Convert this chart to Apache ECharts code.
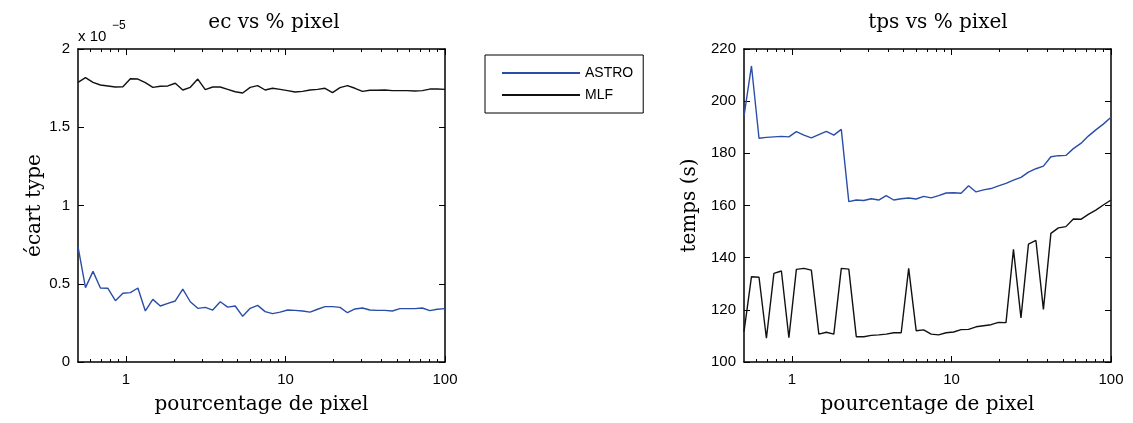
<!DOCTYPE html>
<html>
<head>
<meta charset="utf-8">
<script src="https://cdn.jsdelivr.net/npm/echarts/dist/echarts.min.js"></script>
<style>
html, body { margin: 0; padding: 0; background: #fff; }
#main { width: 1133px; height: 423px; }
</style>
</head>
<body>
<div id="main"></div>
<script>
// pourcentage de pixel (log-spaced samples)
var pct = [0.5, 0.557, 0.621, 0.691, 0.770, 0.858, 0.956, 1.065, 1.187, 1.322,
    1.473, 1.641, 1.829, 2.037, 2.270, 2.529, 2.818, 3.139, 3.497, 3.897,
    4.341, 4.837, 5.389, 6.004, 6.689, 7.452, 8.303, 9.250, 10.31, 11.48,
    12.79, 14.25, 15.88, 17.69, 19.71, 21.96, 24.46, 27.26, 30.37, 33.83,
    37.69, 41.99, 46.79, 52.13, 58.07, 64.70, 72.08, 80.31, 89.47, 100];

// ecart type, in units of 1e-5
var ecAstro = [0.737, 0.475, 0.579, 0.473, 0.471, 0.392, 0.439, 0.443, 0.473, 0.326,
    0.400, 0.358, 0.375, 0.390, 0.466, 0.385, 0.343, 0.349, 0.332, 0.385,
    0.351, 0.358, 0.292, 0.343, 0.362, 0.322, 0.309, 0.319, 0.332, 0.330,
    0.326, 0.319, 0.337, 0.354, 0.354, 0.349, 0.315, 0.339, 0.345, 0.332,
    0.330, 0.330, 0.326, 0.341, 0.341, 0.341, 0.345, 0.328, 0.337, 0.341];
var ecMlf = [1.787, 1.817, 1.787, 1.770, 1.764, 1.757, 1.759, 1.810, 1.808, 1.785,
    1.755, 1.762, 1.764, 1.781, 1.738, 1.755, 1.808, 1.740, 1.757, 1.757,
    1.742, 1.727, 1.719, 1.755, 1.766, 1.738, 1.749, 1.742, 1.734, 1.725,
    1.729, 1.738, 1.742, 1.749, 1.721, 1.753, 1.766, 1.749, 1.729, 1.736,
    1.736, 1.738, 1.734, 1.734, 1.734, 1.732, 1.734, 1.744, 1.744, 1.742];

// temps (s)
var tpsAstro = [194.3, 213.5, 185.8, 186.1, 186.3, 186.5, 186.3, 188.3, 187.0, 185.9,
    187.2, 188.4, 187.0, 189.2, 161.5, 162.1, 161.9, 162.6, 162.1, 163.8,
    162.1, 162.6, 162.9, 162.5, 163.5, 162.9, 163.8, 164.8, 164.9, 164.7,
    167.6, 165.2, 166.0, 166.5, 167.5, 168.5, 169.7, 170.8, 172.8, 174.1,
    175.1, 178.7, 179.1, 179.2, 181.8, 183.8, 186.6, 189.0, 191.2, 193.8];
var tpsMlf = [111.6, 132.7, 132.5, 109.1, 134.0, 134.9, 109.3, 135.5, 135.9, 135.2,
    110.7, 111.4, 110.7, 135.9, 135.6, 109.7, 109.7, 110.2, 110.4, 110.7,
    111.2, 111.2, 135.9, 112.0, 112.3, 110.7, 110.4, 111.2, 111.5, 112.4,
    112.5, 113.5, 113.9, 114.3, 115.2, 115.1, 143.2, 116.9, 145.2, 146.6,
    120.2, 149.3, 151.4, 151.9, 154.8, 154.7, 156.6, 158.2, 160.2, 162.1];

var xMajor = [1, 10, 100];
var xMinor = [0.6, 0.7, 0.8, 0.9, 2, 3, 4, 5, 6, 7, 8, 9, 20, 30, 40, 50, 60, 70, 80, 90];

var blue = '#2a4ea8';
var black = '#111';
var serif = 'DejaVu Serif';
var sans = 'Liberation Sans';

function pairs(ys) {
    return pct.map(function (x, i) { return [x, ys[i]]; });
}

function xAxes(grid) {
    var list = [];
    ['bottom', 'top'].forEach(function (pos) {
        [xMajor, xMinor].forEach(function (vals, j) {
            var major = j === 0;
            var ax = {
                gridIndex: grid,
                type: 'log',
                logBase: 10,
                min: 0.5,
                max: 100,
                position: pos,
                splitLine: { show: false },
                axisLine: { show: major, onZero: false, lineStyle: { color: '#000', width: 1.5 } },
                axisTick: { show: true, inside: true, length: major ? 6 : 3, customValues: vals,
                    lineStyle: { color: '#000', width: 1 } },
                axisLabel: { show: false }
            };
            if (pos === 'bottom' && major) {
                ax.axisLabel = { show: true, customValues: xMajor, color: '#000',
                    fontFamily: sans, fontSize: 15, margin: 10 };
                ax.name = 'pourcentage de pixel';
                ax.nameLocation = 'middle';
                ax.nameGap = 33;
                ax.nameTextStyle = { fontFamily: serif, fontSize: 20, color: '#000' };
            }
            list.push(ax);
        });
    });
    return list;
}

function yAxes(grid, min, max, step, name, gap) {
    return ['left', 'right'].map(function (pos) {
        var ax = {
            gridIndex: grid,
            type: 'value',
            min: min,
            max: max,
            interval: step,
            position: pos,
            splitLine: { show: false },
            axisLine: { show: true, lineStyle: { color: '#000', width: 1.5 } },
            axisTick: { show: true, inside: true, length: 6, lineStyle: { color: '#000', width: 1 } },
            axisLabel: { show: pos === 'left', color: '#000', fontFamily: sans, fontSize: 15, margin: 8 }
        };
        if (pos === 'left') {
            ax.name = name;
            ax.nameLocation = 'middle';
            ax.nameGap = gap;
            ax.nameTextStyle = { fontFamily: serif, fontSize: 20, color: '#000' };
        }
        return ax;
    });
}

var chart = echarts.init(document.getElementById('main'), null, { renderer: 'canvas' });

var option = {
    animation: false,
    backgroundColor: '#fff',
    title: [
        { text: 'ec vs % pixel', left: 269, top: 8, textAlign: 'center',
          textStyle: { fontFamily: serif, fontSize: 20, fontWeight: 'normal', color: '#000' } },
        { text: 'tps vs % pixel', left: 933, top: 8, textAlign: 'center',
          textStyle: { fontFamily: serif, fontSize: 20, fontWeight: 'normal', color: '#000' } }
    ],
    legend: {
        data: ['ASTRO', 'MLF'],
        orient: 'vertical',
        left: 485,
        top: 55,
        padding: [11, 10, 11, 16],
        itemWidth: 78,
        itemHeight: 14,
        itemGap: 8,
        borderColor: '#000',
        borderWidth: 1,
        backgroundColor: '#fff',
        itemStyle: { opacity: 0 },
        textStyle: { fontFamily: sans, fontSize: 14, color: '#000' }
    },
    graphic: [
        { type: 'text', left: 78, top: 29, style: { text: 'x 10', font: '15px "Liberation Sans"', fill: '#000' } },
        { type: 'text', left: 112, top: 20, style: { text: '\u22125', font: '12px "Liberation Sans"', fill: '#000' } }
    ],
    grid: [
        { left: 78, top: 49, width: 367, height: 313 },
        { left: 744, top: 49, width: 367, height: 313 }
    ],
    xAxis: xAxes(0).concat(xAxes(1)),
    yAxis: yAxes(0, 0, 2, 0.5, 'écart type', 22).concat(yAxes(1, 100, 220, 20, 'temps (s)', 44)),
    series: [
        { name: 'ASTRO', type: 'line', xAxisIndex: 0, yAxisIndex: 0, data: pairs(ecAstro),
          symbol: 'none', lineStyle: { color: blue, width: 1.4 }, itemStyle: { color: blue } },
        { name: 'MLF', type: 'line', xAxisIndex: 0, yAxisIndex: 0, data: pairs(ecMlf),
          symbol: 'none', lineStyle: { color: black, width: 1.4 }, itemStyle: { color: black } },
        { name: 'ASTRO', type: 'line', xAxisIndex: 4, yAxisIndex: 2, data: pairs(tpsAstro),
          symbol: 'none', lineStyle: { color: blue, width: 1.4 }, itemStyle: { color: blue } },
        { name: 'MLF', type: 'line', xAxisIndex: 4, yAxisIndex: 2, data: pairs(tpsMlf),
          symbol: 'none', lineStyle: { color: black, width: 1.4 }, itemStyle: { color: black } }
    ]
};

chart.setOption(option);
</script>
</body>
</html>
